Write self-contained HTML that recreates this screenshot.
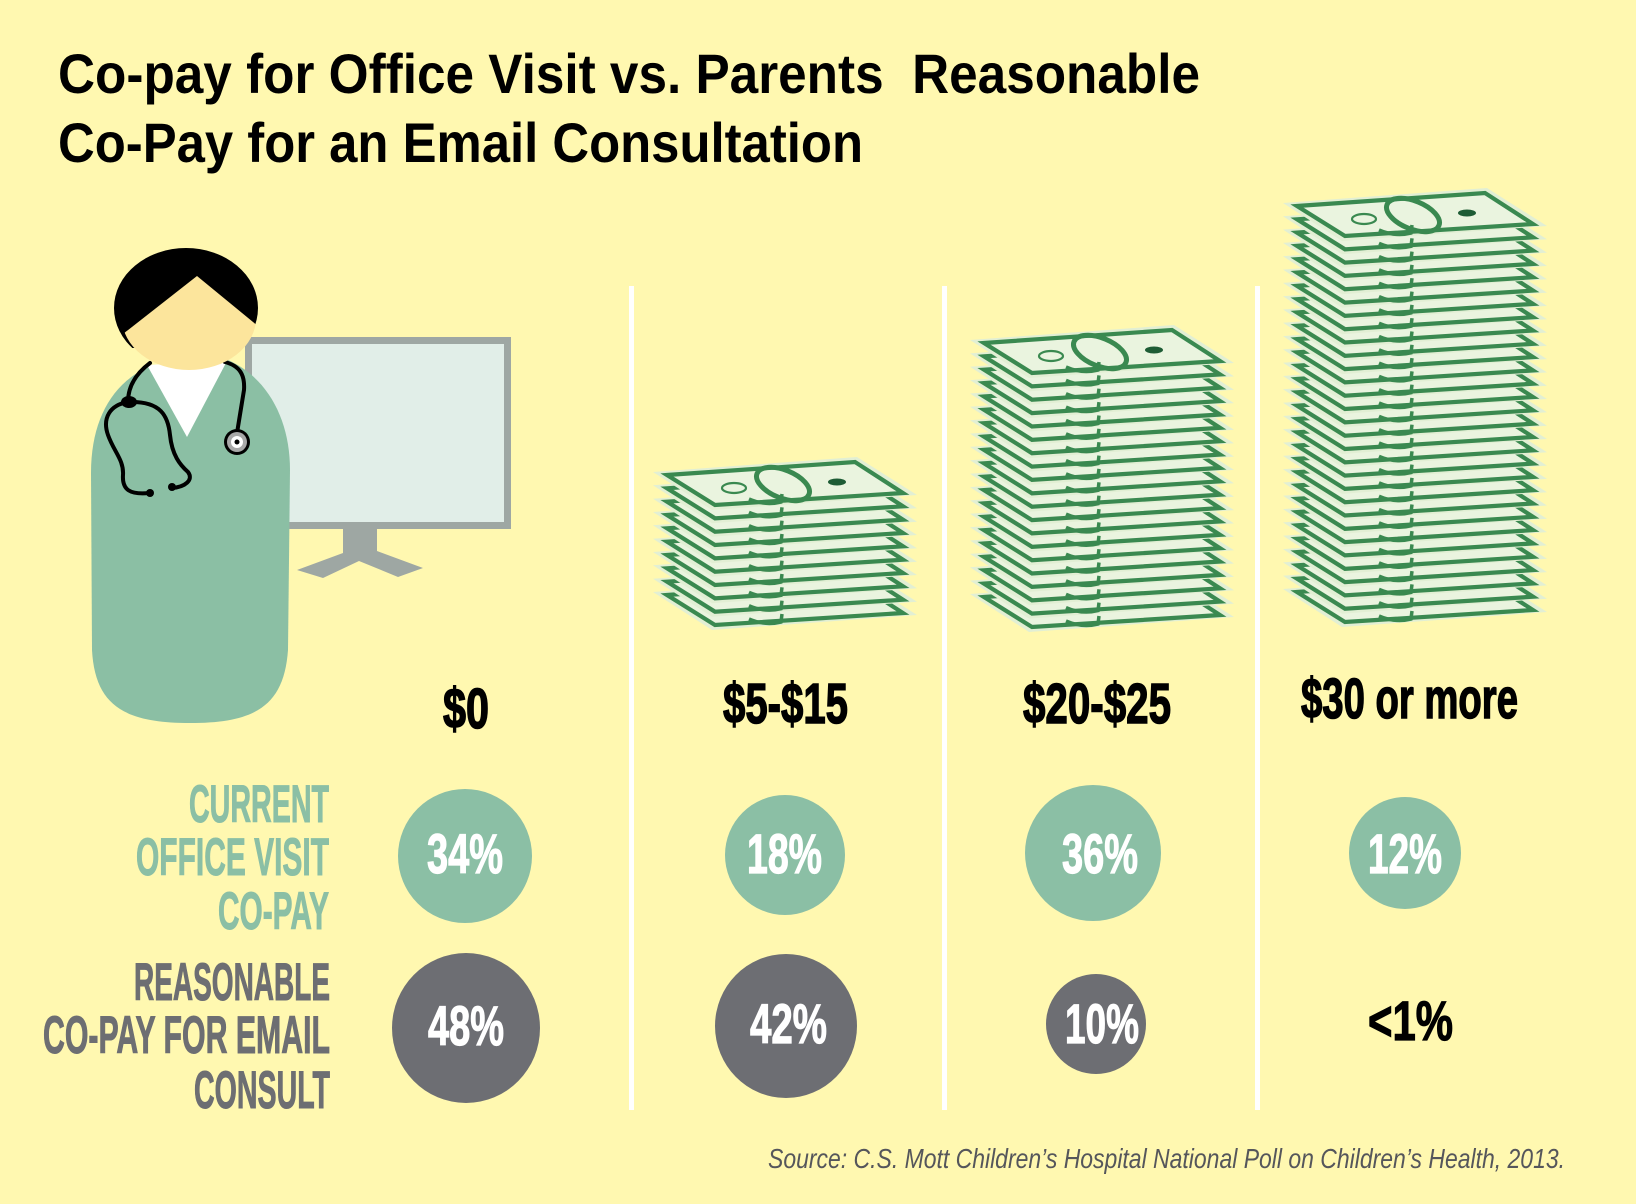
<!DOCTYPE html>
<html><head><meta charset="utf-8"><style>
html,body{margin:0;padding:0;background:#fff8b0;}
svg{display:block;}
text{font-family:"Liberation Sans",sans-serif;}
</style></head><body>
<svg width="1636" height="1204" viewBox="0 0 1636 1204" xmlns="http://www.w3.org/2000/svg">
<defs>
<g id="bill">
<polygon points="0,0 204,-15 264,23 59,38" fill="#e2efd4"/>
<polygon points="14,3 202,-10 250,21 62,33" fill="#eaf4df" stroke="#3a8950" stroke-width="4.2"/>
<path d="M96,27 Q112,34 128,30 L129,22" fill="none" stroke="#3a8950" stroke-width="3.5"/>
</g>
<g id="topbill">
<use href="#bill"/>
<ellipse cx="130" cy="12" rx="28" ry="14" transform="rotate(22 130 12)" fill="none" stroke="#3a8950" stroke-width="5"/>
<ellipse cx="81" cy="16" rx="12" ry="5" fill="none" stroke="#3a8950" stroke-width="2.2"/>
<ellipse cx="184" cy="10" rx="9" ry="3.5" fill="#1e5c35"/>
</g>
<clipPath id="hairclip"><rect x="100" y="230" width="180" height="118"/></clipPath>
<clipPath id="faceclip"><polygon points="100,360 100,352 197,276 270,336 270,400 100,400"/></clipPath>
</defs>
<rect width="1636" height="1204" fill="#fff8b0"/>

<!-- title -->
<text x="58" y="93" font-size="56" font-weight="bold" fill="#000" textLength="1142" lengthAdjust="spacingAndGlyphs">Co-pay for Office Visit vs. Parents&#160; Reasonable</text>
<text x="58" y="162" font-size="56" font-weight="bold" fill="#000" textLength="805" lengthAdjust="spacingAndGlyphs">Co-Pay for an Email Consultation</text>

<!-- divider lines -->
<rect x="629" y="286" width="5" height="824" fill="#ffffff"/>
<rect x="942" y="286" width="5" height="824" fill="#ffffff"/>
<rect x="1255" y="286" width="5" height="824" fill="#ffffff"/>

<!-- monitor -->
<rect x="245" y="337" width="266" height="192" fill="#9ea7a3"/>
<rect x="252" y="344" width="252" height="178" fill="#e1eee8"/>
<polygon points="343,529 377,529 377,551 423,568 398,577 359,561 323,578 297,570 343,553" fill="#9ea7a3"/>

<!-- doctor body -->
<path d="M91,473 C91,420 112,383 150,366 L228,360 C268,378 290,420 290,470 L288,650 C284,706 255,723 190,723 C125,723 95,706 92,650 Z" fill="#8bbfa4"/>
<polygon points="147,365 227,361 187,437" fill="#ffffff"/>
<!-- stethoscope -->
<g fill="none" stroke="#000" stroke-width="4" stroke-linecap="round">
<path d="M150,363 C138,372 128,385 128,402"/>
<path d="M128,402 C110,405 102,418 108,435 C114,452 124,460 123,475 C122,490 130,495 150,493"/>
<path d="M132,402 C160,402 168,415 170,435 C172,455 180,465 188,472 C194,480 185,487 172,488"/>
<path d="M225,362 C240,366 245,375 244,390 L237,433"/>
</g>
<ellipse cx="129" cy="402" rx="8" ry="6" fill="#000"/>
<circle cx="150" cy="493" r="4" fill="#000"/>
<circle cx="172" cy="487" r="4" fill="#000"/>
<circle cx="237" cy="442" r="13" fill="#000"/>
<circle cx="237" cy="442" r="10" fill="#a8a8a8"/>
<circle cx="237" cy="442" r="6" fill="#fff"/>
<circle cx="237" cy="442" r="2.5" fill="#000"/>
<!-- head -->
<ellipse cx="186" cy="308" rx="72" ry="60" fill="#000" clip-path="url(#hairclip)"/>
<ellipse cx="189" cy="318" rx="67" ry="52" fill="#fce59c" clip-path="url(#faceclip)"/>

<!-- stack 1 -->
<g transform="translate(653,472)">
<use href="#bill" y="120"/><use href="#bill" y="106.7"/><use href="#bill" y="93.3"/><use href="#bill" y="80"/><use href="#bill" y="66.7"/><use href="#bill" y="53.3"/><use href="#bill" y="40"/><use href="#bill" y="26.7"/><use href="#bill" y="13.3"/><use href="#topbill" y="0"/>
</g>
<!-- stack 2 -->
<g transform="translate(970,340)">
<use href="#bill" y="254"/><use href="#bill" y="240.6"/><use href="#bill" y="227.3"/><use href="#bill" y="213.9"/><use href="#bill" y="200.5"/><use href="#bill" y="187.2"/><use href="#bill" y="173.8"/><use href="#bill" y="160.4"/><use href="#bill" y="147.1"/><use href="#bill" y="133.7"/><use href="#bill" y="120.3"/><use href="#bill" y="106.9"/><use href="#bill" y="93.6"/><use href="#bill" y="80.2"/><use href="#bill" y="66.8"/><use href="#bill" y="53.5"/><use href="#bill" y="40.1"/><use href="#bill" y="26.7"/><use href="#bill" y="13.4"/><use href="#topbill" y="0"/>
</g>
<!-- stack 4 -->
<g transform="translate(1283,203)">
<use href="#bill" y="386"/><use href="#bill" y="372.7"/><use href="#bill" y="359.4"/><use href="#bill" y="346.1"/><use href="#bill" y="332.8"/><use href="#bill" y="319.4"/><use href="#bill" y="306.1"/><use href="#bill" y="292.8"/><use href="#bill" y="279.5"/><use href="#bill" y="266.2"/><use href="#bill" y="252.9"/><use href="#bill" y="239.6"/><use href="#bill" y="226.3"/><use href="#bill" y="213"/><use href="#bill" y="199.7"/><use href="#bill" y="186.3"/><use href="#bill" y="173"/><use href="#bill" y="159.7"/><use href="#bill" y="146.4"/><use href="#bill" y="133.1"/><use href="#bill" y="119.8"/><use href="#bill" y="106.5"/><use href="#bill" y="93.2"/><use href="#bill" y="79.9"/><use href="#bill" y="66.6"/><use href="#bill" y="53.2"/><use href="#bill" y="39.9"/><use href="#bill" y="26.6"/><use href="#bill" y="13.3"/><use href="#topbill" y="0"/>
</g>

<!-- column headers -->
<g font-weight="bold" font-size="57" fill="#000" stroke="#000" stroke-width="1.5">
<text x="443" y="728" textLength="46" lengthAdjust="spacingAndGlyphs">$0</text>
<text x="723" y="723" textLength="125" lengthAdjust="spacingAndGlyphs">$5-$15</text>
<text x="1023" y="723" textLength="148" lengthAdjust="spacingAndGlyphs">$20-$25</text>
<text x="1301" y="718" textLength="217" lengthAdjust="spacingAndGlyphs">$30 or more</text>
</g>

<!-- row labels -->
<g font-weight="bold" font-size="53" fill="#8bbfa5" stroke="#8bbfa5" stroke-width="1">
<text x="189" y="822" textLength="140" lengthAdjust="spacingAndGlyphs">CURRENT</text>
<text x="136" y="875" textLength="193" lengthAdjust="spacingAndGlyphs">OFFICE VISIT</text>
<text x="218" y="929" textLength="111" lengthAdjust="spacingAndGlyphs">CO-PAY</text>
</g>
<g font-weight="bold" font-size="53" fill="#6d6e72" stroke="#6d6e72" stroke-width="1">
<text x="134" y="1000" textLength="196" lengthAdjust="spacingAndGlyphs">REASONABLE</text>
<text x="43" y="1053" textLength="287" lengthAdjust="spacingAndGlyphs">CO-PAY FOR EMAIL</text>
<text x="194" y="1108" textLength="136" lengthAdjust="spacingAndGlyphs">CONSULT</text>
</g>

<!-- circles -->
<circle cx="465" cy="856" r="67" fill="#8bbfa5"/>
<circle cx="785" cy="855" r="60" fill="#8bbfa5"/>
<ellipse cx="1093" cy="853" rx="68" ry="68" fill="#8bbfa5"/>
<circle cx="1405" cy="853" r="56" fill="#8bbfa5"/>
<ellipse cx="466" cy="1028" rx="74" ry="75" fill="#6d6e73"/>
<ellipse cx="786" cy="1026" rx="71" ry="72" fill="#6d6e73"/>
<circle cx="1096" cy="1024" r="50" fill="#6d6e73"/>

<g font-weight="bold" font-size="56" fill="#fff" stroke="#fff" stroke-width="1.2">
<text x="427" y="873" textLength="76" lengthAdjust="spacingAndGlyphs">34%</text>
<text x="747" y="873" textLength="75" lengthAdjust="spacingAndGlyphs">18%</text>
<text x="1062" y="873" textLength="76" lengthAdjust="spacingAndGlyphs">36%</text>
<text x="1368" y="873" textLength="74" lengthAdjust="spacingAndGlyphs">12%</text>
<text x="428" y="1045" textLength="76" lengthAdjust="spacingAndGlyphs">48%</text>
<text x="750" y="1043" textLength="77" lengthAdjust="spacingAndGlyphs">42%</text>
<text x="1065" y="1043" textLength="74" lengthAdjust="spacingAndGlyphs">10%</text>
</g>
<text x="1368" y="1040" font-weight="bold" font-size="56" fill="#000" stroke="#000" stroke-width="1.2" textLength="85" lengthAdjust="spacingAndGlyphs">&lt;1%</text>

<!-- source -->
<text x="768" y="1168" font-size="28" font-style="italic" fill="#55565b" textLength="797" lengthAdjust="spacingAndGlyphs">Source: C.S. Mott Children’s Hospital National Poll on Children’s Health, 2013.</text>
</svg>
</body></html>
